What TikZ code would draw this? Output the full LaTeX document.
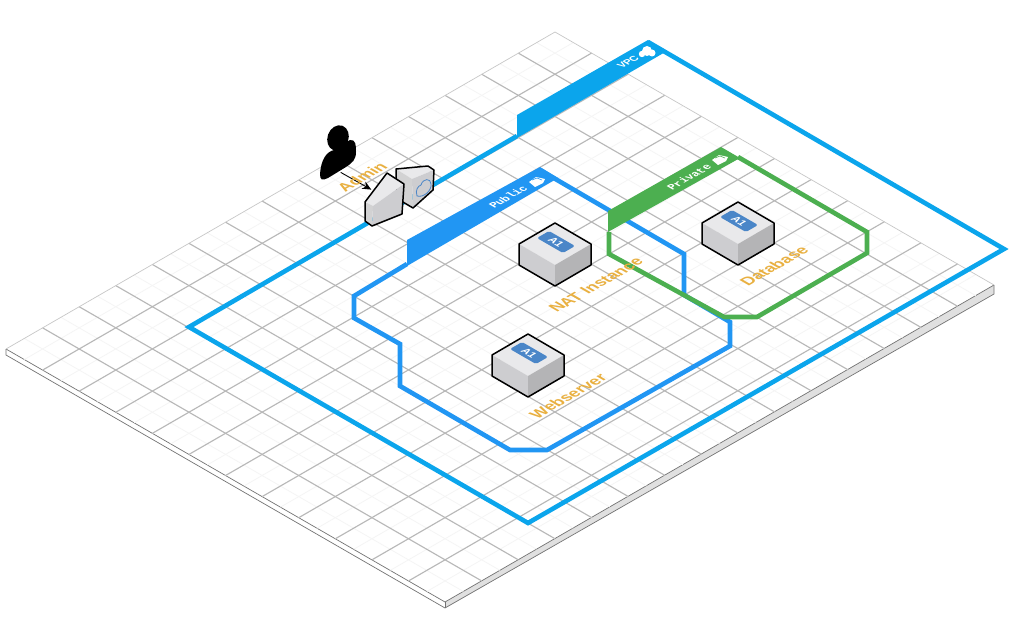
\documentclass[tikz,border=0pt]{standalone}
\usepackage{fontspec}
\setmainfont{Liberation Sans}
\setmonofont{Liberation Mono}
\usetikzlibrary{positioning,arrows.meta}
\definecolor{vpcblue}{HTML}{0BA5EC}
\definecolor{pubblue}{HTML}{2196F3}
\definecolor{privgreen}{HTML}{4CAF50}
\definecolor{labelorange}{HTML}{E9B040}
\definecolor{badgeblue}{HTML}{4A86C8}
\definecolor{topgrey}{HTML}{E9E9EB}
\definecolor{leftgrey}{HTML}{CDCDD0}
\definecolor{rightgrey}{HTML}{B4B4B6}
\tikzset{
  gridmajor/.style={draw=black!28, line width=1.1pt},
  gridminor/.style={draw=black!4, line width=0.8pt},
  zone/.style={line width=4.6pt, miter limit=10, line join=miter},
  upright/.style={cm={0.866,0.5,-0.866,0.5,(0,0)}},
  isolabel/.style={font=\bfseries\fontsize{16}{17}\selectfont, text=labelorange, inner sep=0pt, transform shape, upright},
  zonelabel/.style={font=\ttfamily\bfseries\fontsize{11}{12}\selectfont, text=white, inner sep=0pt, transform shape, upright},
  badge/.style={fill=badgeblue, rounded corners=1.6pt, minimum width=30pt, minimum height=14pt,
                inner sep=0pt, text=white, font=\bfseries\fontsize{10.5}{11}\selectfont, transform shape},
  boxedge/.style={draw=black, line width=1.5pt, line join=round},
}
% apex of the top face given
\newcommand{\serverbox}[2]{%
  \begin{scope}[shift={(#1)}]
    \fill[topgrey] (0,0) -- (36,21) -- (0,42) -- (-36,21) -- cycle;
    \fill[leftgrey] (-36,21) -- (0,42) -- (0,63) -- (-36,42) -- cycle;
    \fill[rightgrey] (36,21) -- (0,42) -- (0,63) -- (36,42) -- cycle;
    \draw[boxedge] (0,0) -- (36,21) -- (36,42) -- (0,63) -- (-36,42) -- (-36,21) -- cycle;
    \node[badge, name=#2, cm={0.866,-0.5,0.866,0.5,(0,0)}] at (1,19) {A1};
  \end{scope}}
\begin{document}
\begin{tikzpicture}[x=1pt, y=-1pt]
\useasboundingbox (0,0) rectangle (1011,631);
%
\fill[white] (0,0) rectangle (1011,631);
\fill[white] (6,349) -- (555,32) -- (994,285) -- (445,602) -- cycle;
\fill[black!12] (994,285) -- (994,294) -- (445,608) -- (445,602) -- cycle;
\draw[black!55, line width=0.7pt] (6,349) -- (6,355) -- (445,608) -- (994,294) -- (994,285);
\draw[black!55, line width=0.7pt] (6,349) -- (445,602) -- (994,285);
\draw[black!55, line width=0.7pt] (445,602) -- (445,608);
%
\foreach \i in {1,...,29} {
  \draw[gridminor] ({6+\i*18.3},{349-\i*10.565}) -- ({445+\i*18.3},{602-\i*10.565});
}
\foreach \i in {1,...,23} {
  \draw[gridminor] ({6+\i*18.3},{349+\i*10.54}) -- ({555+\i*18.3},{32+\i*10.54});
}
\foreach \i in {1,...,14} {
  \draw[gridmajor] ({6+\i*36.6},{349-\i*21.13}) -- ({445+\i*36.6},{602-\i*21.13});
}
\foreach \i in {1,...,11} {
  \draw[gridmajor] ({6+\i*36.6},{349+\i*21.08}) -- ({555+\i*36.6},{32+\i*21.08});
}
\draw[black!22, line width=0.7pt] (6,349) -- (555,32) -- (994,285);
%
\draw[zone, draw=vpcblue] (517,136) -- (189,327) -- (528,523) -- (1004,249) -- (648,42);
\fill[vpcblue] (517,115) -- (648,40) -- (667,51) -- (517,138) -- cycle;
\node[zonelabel, font=\bfseries\fontsize{10}{11}\selectfont] (vpclabel) at (628,62) {VPC};
\fill[white] (642,54) circle (3.2) (647,51) circle (5) (652,53) circle (3.5);
%
\draw[zone, draw=pubblue] (407,264) -- (354,296) -- (354,318) -- (400,344) -- (400,386) -- (510,450)
  -- (547,450) -- (730,346) -- (730,322) -- (684,295) -- (684,254) -- (540,170);
\fill[pubblue] (407,240) -- (540,167) -- (558,178) -- (407,266) -- cycle;
\node[zonelabel] (publiclabel) at (508,197) {Public};
\fill[white] (529,182) -- (536,177) -- (545,179) -- (543,183) -- (535,187) -- cycle;
\draw[pubblue, line width=0.6pt] (532,180) -- (537,178) -- (542,180);
%
\draw[zone, draw=privgreen] (609,232) -- (609,254) -- (724,317) -- (757,317) -- (867,253) -- (867,232) -- (738,157);
\fill[privgreen] (608,211) -- (721,147) -- (740,158) -- (608,232) -- cycle;
\node[zonelabel] (privatelabel) at (689,177) {Private};
\fill[white] (712,160) -- (719,155) -- (728,157) -- (726,161) -- (718,165) -- cycle;
\draw[privgreen, line width=0.6pt] (715,158) -- (720,156) -- (725,158);
%
\serverbox{555,223}{natbadge}
\serverbox{738,202}{dbbadge}
\serverbox{528,334}{webbadge}
%
\node[isolabel] (natlabel) at (596,285) {NAT Instance};
\node[isolabel] (dblabel) at (774,266) {Database};
\node[isolabel] (weblabel) at (568,396) {Webserver};
%
\fill[black, rotate around={-20:(338,138)}] (338,138) ellipse (10.5 and 13);
\fill[black] (320,174) .. controls (321,160) and (326,152) .. (334,150)
  -- (350,140) .. controls (356,139) and (356,146) .. (356,152)
  .. controls (356,160) and (352,163) .. (346,167) -- (328,178)
  .. controls (322,181) and (320,180) .. (320,174) -- cycle;
%
\fill[topgrey] (396,169) -- (428,166) -- (434,170) -- (412,179) -- cycle;
\fill[topgrey!90!black] (396,169) -- (412,179) -- (413,208) -- (396,198) -- cycle;
\fill[leftgrey] (412,179) -- (434,170) -- (433,190) -- (413,208) -- cycle;
\draw[boxedge] (396,169) -- (428,166) -- (434,170) -- (433,190) -- (413,208) -- (396,198) -- cycle;
\draw[badgeblue, line width=0.8pt] (417,196) .. controls (415,190) and (418,186) .. (421,185)
  .. controls (423,178) and (431,178) .. (431,184) .. controls (432,190) and (424,198) .. (417,196) -- cycle;
%
\fill[topgrey] (365,202) -- (387,173) -- (404,184) -- (373,206) -- cycle;
\fill[topgrey!90!black] (365,202) -- (373,206) -- (372,226) -- (365,221) -- cycle;
\fill[leftgrey] (373,206) -- (404,184) -- (402,214) -- (372,226) -- cycle;
\draw[boxedge] (365,202) -- (387,173) -- (404,184) -- (402,214) -- (372,226) -- (365,221) -- cycle;
%
\node[inner sep=0pt, minimum size=1pt] (adminuser) at (340,172) {};
\node[inner sep=0pt, minimum size=1pt] (natgate) at (372,190) {};
\draw[-{Stealth[length=9pt,width=8pt]}, black, line width=0.9pt] (adminuser) -- (natgate);
\node[isolabel] (adminlabel) at (362,177) {Admin};
%
\end{tikzpicture}
\end{document}
